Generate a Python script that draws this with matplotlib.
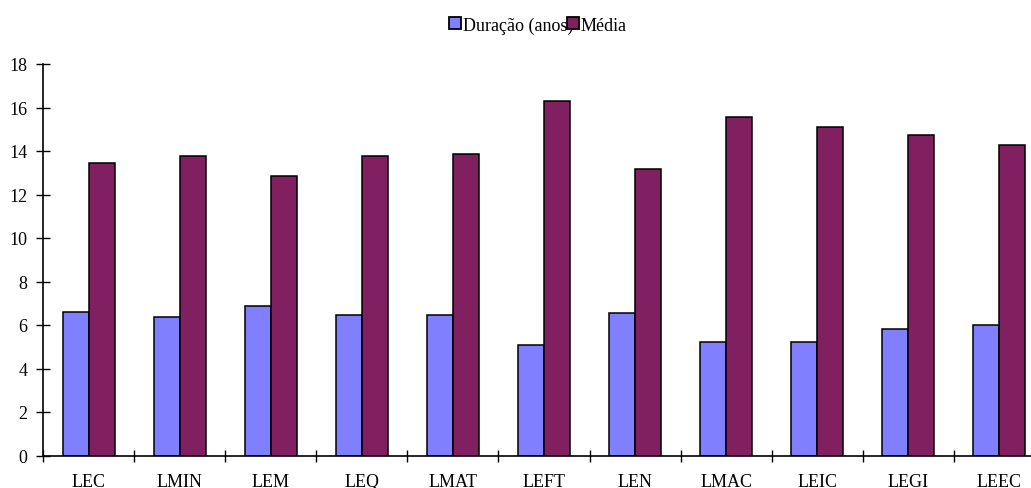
import numpy as np
import matplotlib.pyplot as plt
from matplotlib.patches import Patch

# cursos e valores
cursos = ['LEC', 'LMIN', 'LEM', 'LEQ', 'LMAT', 'LEFT', 'LEN', 'LMAC', 'LEIC', 'LEGI', 'LEEC']
duracao = [6.6, 6.35, 6.88, 6.44, 6.44, 5.07, 6.54, 5.23, 5.23, 5.8, 5.98]
media = [13.43, 13.78, 12.87, 13.78, 13.88, 16.28, 13.16, 15.55, 15.09, 14.72, 14.26]

cor_dur = '#8080FF'
cor_med = '#802060'

plt.rcParams['font.family'] = ['Liberation Serif', 'DejaVu Serif']

fig = plt.figure(figsize=(10.31, 4.89), dpi=100)
# axes wider than the figure on purpose: last group sits at the right edge
ax = fig.add_axes([43 / 1031, 32.5 / 489, 1002 / 1031, 391.5 / 489])

x = np.arange(len(cursos))
w = 0.285
ax.bar(x - w / 2, duracao, w, color=cor_dur, edgecolor='black', linewidth=1.1)
ax.bar(x + w / 2, media, w, color=cor_med, edgecolor='black', linewidth=1.1)

ax.set_xlim(-0.5, len(cursos) - 0.5)
ax.set_ylim(0, 18)
ax.set_yticks(range(0, 19, 2))

ax.set_xticks(x)
ax.set_xticklabels(cursos, fontsize=13)
ax.set_xticks(np.arange(-0.5, len(cursos), 1), minor=True)
ax.tick_params(axis='x', which='major', length=0, pad=12.5)
ax.tick_params(axis='x', which='minor', direction='inout', length=9, width=1)
ax.tick_params(axis='y', direction='inout', length=10, width=1, labelsize=13, pad=6)

for s in ['top', 'right']:
    ax.spines[s].set_visible(False)
for s in ['left', 'bottom']:
    ax.spines[s].set_linewidth(1.2)

handles = [Patch(facecolor=cor_dur, edgecolor='black', linewidth=1.3),
           Patch(facecolor=cor_med, edgecolor='black', linewidth=1.3)]
fig.legend(handles, ['Duração (anos)', 'Média'], loc='center',
           bbox_to_anchor=(538 / 1031, 1 - 26 / 489), ncol=2, frameon=False,
           fontsize=13, handlelength=0.65, handleheight=0.65, handletextpad=0.1,
           columnspacing=-0.35)

fig.savefig('out.png', dpi=100)
